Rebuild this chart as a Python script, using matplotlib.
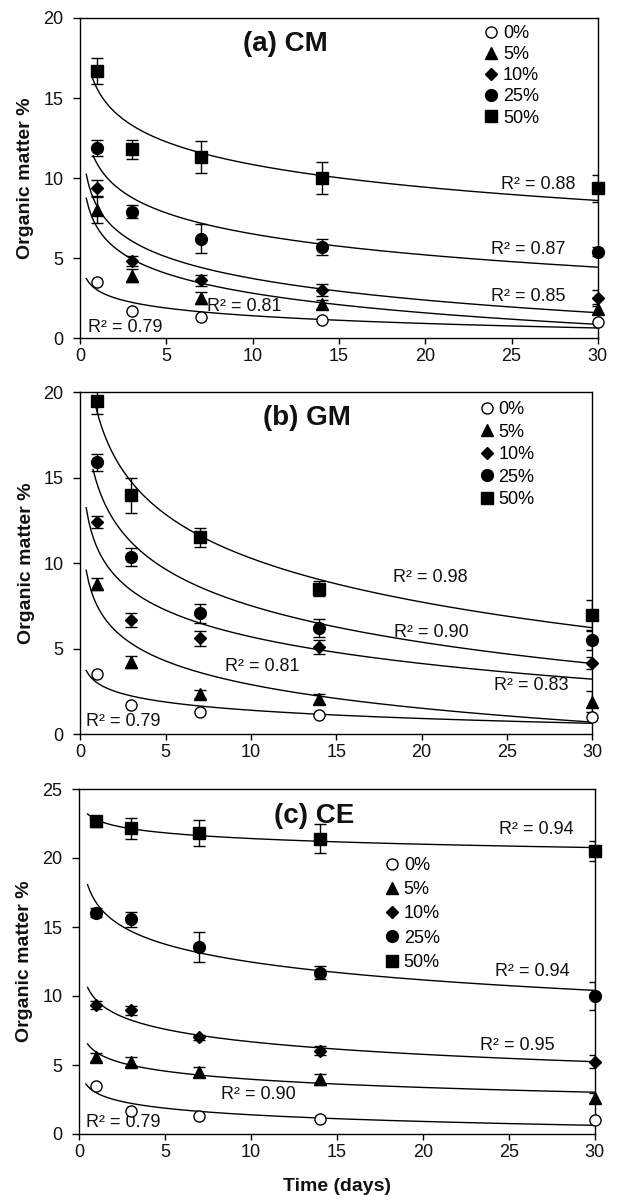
import numpy as np
import matplotlib.pyplot as plt

plt.rcParams['font.family'] = ['Liberation Sans', 'DejaVu Sans']

days = [1, 3, 7, 14, 30]
labels = ['0%', '5%', '10%', '25%', '50%']

# organic matter %, one list per dose
cm_vals = [[3.5, 1.7, 1.3, 1.12, 1.02],
           [8.0, 3.9, 2.5, 2.1, 1.8],
           [9.4, 4.8, 3.6, 3.0, 2.5],
           [11.9, 7.9, 6.2, 5.7, 5.4],
           [16.7, 11.8, 11.3, 10.0, 9.35]]
cm_err = [[0, 0, 0, 0, 0],
          [0.8, 0.4, 0.35, 0.3, 0.3],
          [0.5, 0.3, 0.35, 0.4, 0.5],
          [0.5, 0.4, 0.9, 0.5, 0.3],
          [0.8, 0.6, 1.0, 1.0, 0.85]]

gm_vals = [[3.5, 1.7, 1.3, 1.12, 1.02],
           [8.8, 4.2, 2.35, 2.05, 1.9],
           [12.4, 6.65, 5.6, 5.1, 4.15],
           [15.9, 10.35, 7.05, 6.2, 5.5],
           [19.5, 13.95, 11.5, 8.5, 6.95]]
gm_err = [[0, 0, 0, 0, 0],
          [0.35, 0.35, 0.25, 0.3, 0.6],
          [0.35, 0.4, 0.45, 0.4, 0.35],
          [0.5, 0.55, 0.55, 0.55, 0.6],
          [0.8, 1.05, 0.55, 0.45, 0.9]]

ce_vals = [[3.5, 1.7, 1.3, 1.12, 1.02],
           [5.6, 5.25, 4.5, 3.95, 2.6],
           [9.35, 8.95, 7.0, 6.05, 5.25],
           [16.05, 15.55, 13.55, 11.7, 10.0],
           [22.65, 22.15, 21.8, 21.4, 20.5]]
ce_err = [[0, 0, 0, 0, 0],
          [0.3, 0.35, 0.35, 0.4, 0.35],
          [0.3, 0.3, 0.2, 0.35, 0.5],
          [0.35, 0.55, 1.1, 0.5, 1.05],
          [0.4, 0.75, 0.95, 1.05, 0.7]]

# where each log trendline begins (days)
cm_start = [0.35, 0.35, 0.35, 0.75, 0.7]
gm_start = [0.35, 0.35, 0.35, 0.75, 0.8]
ce_start = [0.4, 0.5, 0.5, 0.5, 0.5]

# R² labels: text, x, y
cm_r2 = [('0.79', 0.44, 0.67), ('0.81', 7.33, 1.98), ('0.85', 23.8, 2.6),
         ('0.87', 23.8, 5.52), ('0.88', 24.4, 9.6)]
gm_r2 = [('0.79', 0.35, 0.72), ('0.81', 8.47, 3.97), ('0.83', 24.25, 2.82),
         ('0.90', 18.4, 5.94), ('0.98', 18.3, 9.13)]
ce_r2 = [('0.79', 0.42, 0.82), ('0.90', 8.24, 2.83), ('0.95', 23.3, 6.4),
         ('0.94', 24.2, 11.8), ('0.94', 24.4, 22.1)]

markers = [dict(marker='o', markersize=8, markerfacecolor='white'),
           dict(marker='^', markersize=8.5),
           dict(marker='D', markersize=6.3),
           dict(marker='o', markersize=8.5),
           dict(marker='s', markersize=8.3)]

fig = plt.figure(figsize=(6.17, 12), dpi=100)


def draw_panel(ax, vals, errs, starts, r2, title, title_xy, ymax, leg_xy, leg_sp):
    handles = []
    for i in range(len(vals)):
        v = np.array(vals[i])
        # excel style logarithmic trendline
        a, b = np.polyfit(np.log(days), v, 1)
        xs = np.linspace(starts[i], 30, 200)
        ax.plot(xs, a * np.log(xs) + b, color='black', lw=1, zorder=2)
        if max(errs[i]) > 0:
            ax.errorbar(days, v, yerr=errs[i], fmt='none', ecolor='black',
                        elinewidth=1, capsize=4, capthick=1, zorder=3)
        h, = ax.plot(days, v, linestyle='none', color='black',
                     markeredgecolor='black', markeredgewidth=1,
                     label=labels[i], zorder=4, clip_on=False, **markers[i])
        handles.append(h)
    for txt, x, y in r2:
        ax.text(x, y, 'R² = ' + txt, fontsize=13, ha='left', va='center', color='#111')
    ax.text(title_xy[0], title_xy[1], title, fontsize=20, fontweight='bold',
            ha='center', va='center', color='#111')
    ax.legend(handles=handles, loc='upper left', bbox_to_anchor=leg_xy,
              frameon=False, fontsize=13, handlelength=0.8, handletextpad=0.25,
              labelspacing=leg_sp, borderpad=0, borderaxespad=0)
    ax.set_xlim(0, 30)
    ax.set_ylim(0, ymax)
    ax.set_xticks(range(0, 31, 5))
    ax.set_yticks(range(0, ymax + 1, 5))
    ax.tick_params(direction='out', width=1, labelsize=13, labelcolor='#111')
    ax.tick_params(axis='x', length=4, pad=3)
    ax.tick_params(axis='y', length=5, pad=7)
    for s in ax.spines.values():
        s.set_linewidth(1)
    ax.set_ylabel('Organic matter %', fontsize=14, fontweight='bold', color='#111')
    ax.yaxis.set_label_coords(-0.089, 0.5)


ax1 = fig.add_axes([0.130, 0.7183, 0.839, 0.2667])
draw_panel(ax1, cm_vals, cm_err, cm_start, cm_r2, '(a) CM', (11.9, 18.4), 20,
           (0.78, 0.978), 0.23)

ax2 = fig.add_axes([0.130, 0.3883, 0.8298, 0.285])
draw_panel(ax2, gm_vals, gm_err, gm_start, gm_r2, '(b) GM', (13.3, 18.5), 20,
           (0.78, 0.973), 0.3)

ax3 = fig.add_axes([0.128, 0.055, 0.836, 0.2875])
draw_panel(ax3, ce_vals, ce_err, ce_start, ce_r2, '(c) CE', (13.7, 23.05), 25,
           (0.593, 0.803), 0.4)
ax3.set_xlabel('Time (days)', fontsize=14, fontweight='bold', color='#111')
ax3.xaxis.set_label_coords(0.5, -0.128)

fig.savefig('out.png', dpi=100)
